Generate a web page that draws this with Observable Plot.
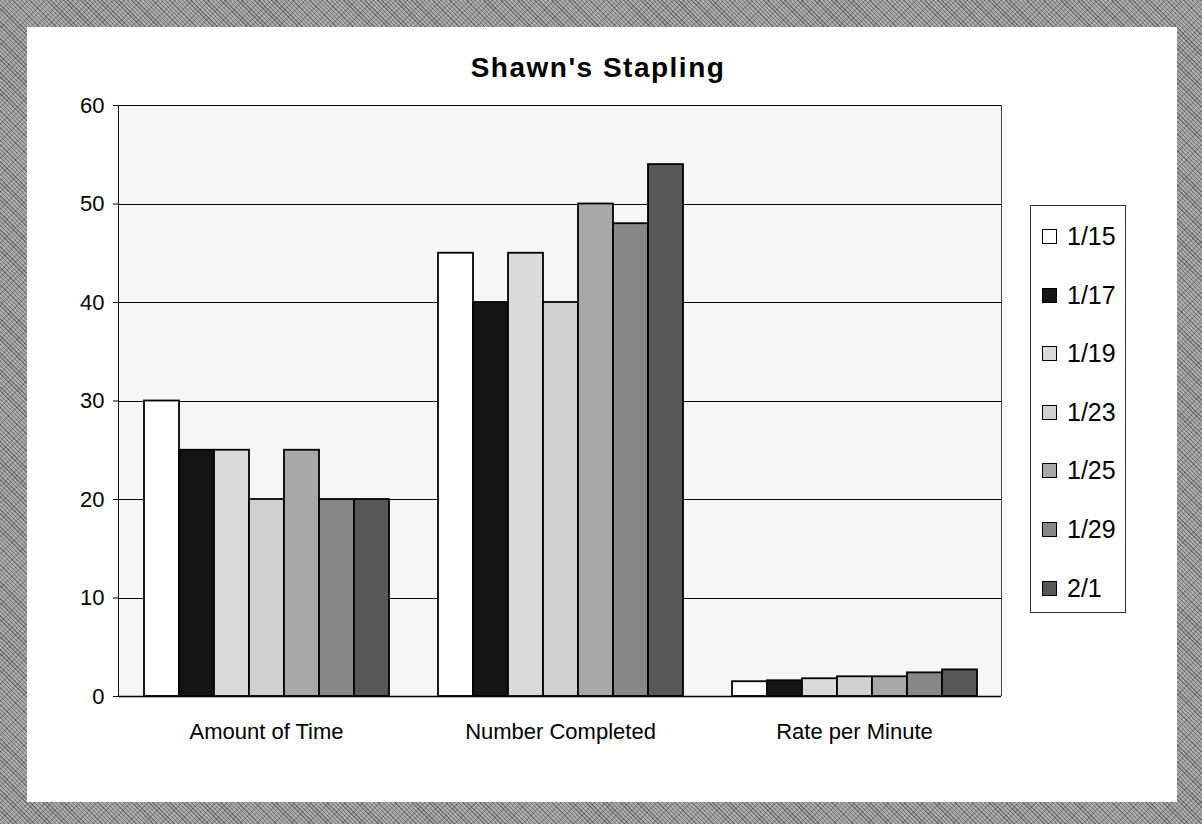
<!DOCTYPE html>
<html>
<head>
<meta charset="utf-8">
<script src="https://cdn.jsdelivr.net/npm/d3@7"></script>
<script src="https://cdn.jsdelivr.net/npm/@observablehq/plot@0.6"></script>
<style>
  html, body { margin: 0; padding: 0; background: white; }
  #page { position: relative; width: 1202px; height: 824px; overflow: hidden;
    background-color: #929292;
    background-image: repeating-linear-gradient(45deg, rgba(0,0,0,0.22) 0 1px, rgba(255,255,255,0.14) 1px 3px),
                      repeating-linear-gradient(-45deg, rgba(0,0,0,0.14) 0 1px, rgba(255,255,255,0.10) 1px 4px); }
  #inner { position: absolute; left: 27px; top: 27px; right: 25px; bottom: 22px; background: white; }
  #plotbg { position: absolute; left: 118px; top: 105px; width: 884px; height: 591px;
    background: #f6f6f6; border-left: 1px solid #111; border-right: 1px solid #444; box-sizing: border-box; }
  #chart { position: absolute; left: 0; top: 0; }
  #title { position: absolute; left: 0; width: 1196px; top: 52px; text-align: center;
    font-family: "Liberation Sans", Arial, sans-serif; font-weight: bold; font-size: 28px; letter-spacing: 1.5px; color: #000; }
  #legend { position: absolute; left: 1030px; top: 205px; width: 96px; height: 408px;
    border: 1px solid #333; box-sizing: border-box; background: white;
    font-family: "Liberation Sans", Arial, sans-serif; font-size: 25px; color: #000; }
  .item { position: absolute; left: 0; height: 28px; line-height: 28px; white-space: nowrap; }
  .sw { position: absolute; left: 11px; top: 7px; width: 15px; height: 15px; border: 1.5px solid #000; box-sizing: border-box; }
  .lab { position: absolute; left: 36px; top: 0; }
</style>
</head>
<body>
<div id="page">
  <div id="inner"></div>
  <div id="plotbg"></div>
  <div id="chart"></div>
  <div id="title">Shawn's Stapling</div>
  <div id="legend"></div>
</div>
<script>
const categories = ["Amount of Time", "Number Completed", "Rate per Minute"];
const dates = ["1/15", "1/17", "1/19", "1/23", "1/25", "1/29", "2/1"];
const amountOfTime = [30, 25, 25, 20, 25, 20, 20];
const numberCompleted = [45, 40, 45, 40, 50, 48, 54];
const ratePerMinute = [1.5, 1.6, 1.8, 2.0, 2.0, 2.4, 2.7];
const seriesColors = ["#ffffff", "#151515", "#dadada", "#d0d0d0", "#a8a8a8", "#878787", "#575757"];
const yTicks = [0, 10, 20, 30, 40, 50, 60];
const gridValues = [10, 20, 30, 40, 50, 60];

const valuesByCategory = [amountOfTime, numberCompleted, ratePerMinute];
const data = [];
categories.forEach((c, ci) => {
  dates.forEach((d, di) => data.push({category: c, date: d, value: valuesByCategory[ci][di]}));
});

const chart = Plot.plot({
  width: 1202,
  height: 824,
  marginLeft: 118,
  marginRight: 200,
  marginTop: 105,
  marginBottom: 128,
  style: {background: "none", fontFamily: "Liberation Sans, Arial, sans-serif", fontSize: "22px", color: "#000"},
  fx: {domain: categories, padding: 0, label: null, tickSize: 0, tickPadding: 27},
  x: {domain: dates, paddingInner: 0, paddingOuter: 0.7, axis: null},
  y: {domain: [0, 60], ticks: yTicks, tickSize: 6, tickPadding: 9, label: null},
  color: {domain: dates, range: seriesColors},
  marks: [
    Plot.ruleY(gridValues, {stroke: "#000", strokeWidth: 1, shapeRendering: "crispEdges"}),
    Plot.barY(data, {fx: "category", x: "date", y: "value", fill: "date", stroke: "#000", strokeWidth: 1.8}),
    Plot.ruleY([0], {stroke: "#000", strokeWidth: 1.5})
  ]
});
document.getElementById("chart").appendChild(chart);

const legend = document.getElementById("legend");
dates.forEach((d, i) => {
  const item = document.createElement("div");
  item.className = "item";
  item.style.top = (16 + i * 58.6) + "px";
  const sw = document.createElement("div");
  sw.className = "sw";
  sw.style.background = seriesColors[i];
  const lab = document.createElement("div");
  lab.className = "lab";
  lab.textContent = d;
  item.appendChild(sw);
  item.appendChild(lab);
  legend.appendChild(item);
});
</script>
</body>
</html>
